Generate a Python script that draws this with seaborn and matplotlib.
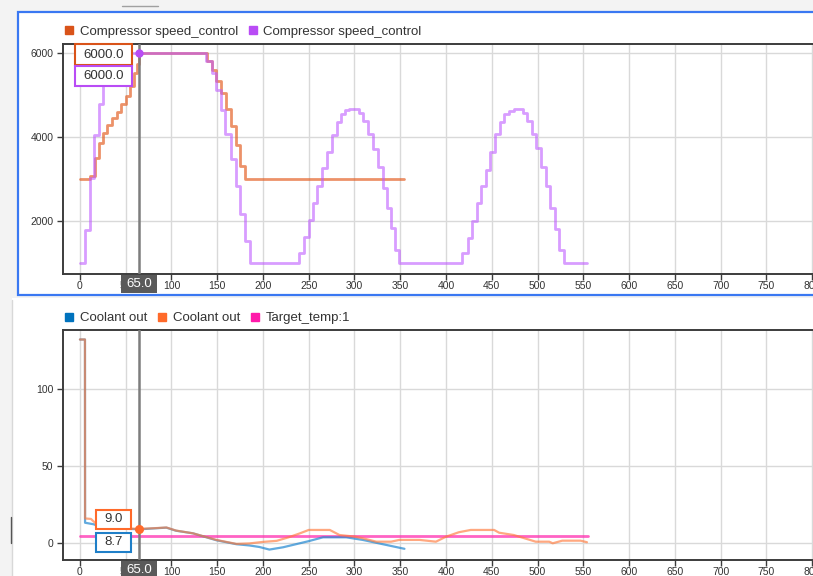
import matplotlib
matplotlib.use("Agg")
import matplotlib.pyplot as plt
from matplotlib.lines import Line2D
from matplotlib.patches import Rectangle
import pandas as pd
import seaborn as sns

W, H = 813, 576

# ---- Compressor speed_control, run A (orange) ----
speed_a_t = [0, 11, 16, 21, 25.5, 30, 34.5, 40, 45, 50, 54.5, 59, 62.5, 65,
             139, 144.3, 149, 154.4, 159.1, 164.6, 170, 175, 180.4, 354.4]
speed_a_v = [3000, 3080, 3500, 3860, 4100, 4300, 4450, 4600, 4780, 4970, 5210, 5530, 5730, 6000,
             5800, 5590, 5330, 5050, 4670, 4260, 3820, 3320, 3000, 3000]

# ---- Compressor speed_control, run B (purple) ----
speed_b_t = [0, 5.5, 11, 15.6, 21, 25.4,
             138, 144, 149, 154.4, 158.8, 164.6, 170, 175, 180, 185.6,
             239, 244.6, 250, 254.5, 259.3, 264.4, 270.2, 275.6, 280.7, 285, 289.8, 294.5,
             304.7, 309, 314.5, 320.7, 325.8, 330.9, 335.3, 339.6, 344.7, 349,
             418, 423.6, 428.4, 433.8, 438.5, 443.6, 448.3, 453.8, 458.5, 462.9, 468.3, 474.8,
             483.9, 489, 494.5, 498.5, 503.9, 509, 513.7, 519.2, 523.5, 529.4, 553.6]
speed_b_v = [1000, 1800, 3030, 4060, 4800, 6000,
             5805, 5530, 5130, 4655, 4080, 3480, 2830, 2180, 1540, 1000,
             1240, 1640, 2040, 2430, 2830, 3270, 3660, 4060, 4350, 4540, 4640, 4680,
             4580, 4380, 4080, 3720, 3290, 2790, 2310, 1840, 1320, 1000,
             1240, 1600, 2010, 2430, 2830, 3230, 3640, 4080, 4350, 4540, 4630, 4670,
             4580, 4380, 4080, 3740, 3300, 2850, 2310, 1810, 1320, 1000, 1000]

# ---- Coolant out, run A (blue) ----
cool_a_t = [0, 5.5, 5.6, 15, 20, 30, 45, 65, 80, 94.5, 105, 123.5, 149, 171, 185, 196, 207,
            222, 236, 250, 265.6, 291, 309, 331, 354.6]
cool_a_v = [132.5, 132.5, 13.0, 12.0, 10.8, 9.8, 9.2, 8.7, 9.3, 9.8, 7.8, 6.1, 1.6, -1.0, -1.8, -2.8, -4.5,
            -3.0, -1.0, 1.0, 3.5, 3.5, 1.8, -1.0, -4.0]

# ---- Coolant out, run B (orange) ----
cool_b_t = [0, 5.5, 5.6, 12, 15, 20, 30, 45, 65, 80, 94.5, 105, 123.5, 149, 171, 185, 200, 215,
            228, 240, 250, 273, 283.6, 301, 309, 323.7, 340, 349, 371, 389, 400, 414, 427, 452.6,
            458, 474, 498, 512.7, 516.6, 527, 547, 554]
cool_b_v = [132.5, 132.5, 15.8, 15.5, 13.8, 11.5, 10.0, 9.4, 9.0, 9.4, 9.9, 7.9, 6.1, 1.8, -0.8, -0.5, 0.5, 1.2,
            3.5, 6.0, 8.3, 8.3, 5.0, 3.9, 2.9, 0.65, 0.65, 1.8, 1.8, 0.65, 3.9, 6.8, 8.3, 8.3,
            6.5, 5.0, 0.65, 0.65, -0.4, 1.3, 1.3, 0.3]

# ---- Target_temp:1 ----
target_t = [0, 555]
target_v = [4.5, 4.5]

cursor_t = 65.0

top_labels = ["Compressor speed_control", "Compressor speed_control"]
top_colors = ["#d95319", "#b94cf5"]
bot_labels = ["Coolant out", "Coolant out", "Target_temp:1"]
bot_colors = ["#0072bd", "#ff6a2a", "#ff1aaa"]

x_ticks = list(range(0, 801, 50))
top_yticks = [2000, 4000, 6000]
bot_yticks = [0, 50, 100]

sns.set_theme(style="white")
plt.rcParams["font.family"] = ["Liberation Sans", "DejaVu Sans"]

fig = plt.figure(figsize=(W / 100, H / 100), dpi=100, facecolor="#f3f3f3")


def px_rect(x0, y0, x1, y1, **kw):
    """Rectangle in top-down pixel coordinates."""
    r = Rectangle((x0 / W, 1 - y1 / H), (x1 - x0) / W, (y1 - y0) / H,
                  transform=fig.transFigure, **kw)
    fig.add_artist(r)
    return r


def px_axes(x0, y0, x1, y1):
    return fig.add_axes([x0 / W, 1 - y1 / H, (x1 - x0) / W, (y1 - y0) / H])


# panel backgrounds
px_rect(18, 12, 830, 295, facecolor="white", edgecolor="#3a78f2", lw=1.6, zorder=-2)
px_rect(12, 298, 830, 590, facecolor="white", edgecolor="none", zorder=-2)
fig.add_artist(Line2D([122 / W, 158 / W], [1 - 6 / H, 1 - 6 / H], transform=fig.transFigure,
                      color="#a0a0a0", lw=1))
fig.add_artist(Line2D([12 / W, 12 / W], [1 - 300 / H, 0], transform=fig.transFigure,
                      color="#d8d8d8", lw=1))
fig.add_artist(Line2D([11 / W, 11 / W], [1 - 517 / H, 1 - 543 / H], transform=fig.transFigure,
                      color="#555555", lw=1))

ax1 = px_axes(63, 44, 813, 274)
ax2 = px_axes(63, 330, 813, 560)

for ax in (ax1, ax2):
    ax.set_facecolor("white")
    ax.set_xlim(-18.5, 801)
    ax.set_xticks(x_ticks)
    ax.grid(True, color="#d9d9d9", lw=1)
    ax.set_axisbelow(True)
    for s in ("left", "bottom", "top"):
        ax.spines[s].set_color("#3c3c3c")
        ax.spines[s].set_linewidth(1.4)
    ax.spines["right"].set_visible(False)
    ax.tick_params(axis="both", direction="out", length=4, width=1, color="#3c3c3c",
                   labelsize=7.5, labelcolor="#333333", bottom=True, left=True)
    ax.tick_params(axis="x", pad=1)
    ax.tick_params(axis="y", pad=3)

ax1.set_ylim(750, 6214)
ax1.set_yticks(top_yticks)
ax2.set_ylim(-11.3, 138.7)
ax2.set_yticks(bot_yticks)

# speed traces
sns.lineplot(data=pd.DataFrame({"t": speed_a_t, "v": speed_a_v}), x="t", y="v", ax=ax1,
             color="#e4642a", alpha=0.7, lw=2, drawstyle="steps-post",
             estimator=None, sort=False, legend=False)
sns.lineplot(data=pd.DataFrame({"t": speed_b_t, "v": speed_b_v}), x="t", y="v", ax=ax1,
             color="#bf5cff", alpha=0.6, lw=2, drawstyle="steps-post",
             estimator=None, sort=False, legend=False)

# coolant traces
sns.lineplot(data=pd.DataFrame({"t": target_t, "v": target_v}), x="t", y="v", ax=ax2,
             color="#ff2fb0", alpha=0.75, lw=2, estimator=None, sort=False, legend=False)
sns.lineplot(data=pd.DataFrame({"t": cool_a_t, "v": cool_a_v}), x="t", y="v", ax=ax2,
             color="#1f86d0", alpha=0.7, lw=1.6, estimator=None, sort=False, legend=False)
sns.lineplot(data=pd.DataFrame({"t": cool_b_t, "v": cool_b_v}), x="t", y="v", ax=ax2,
             color="#ff7a3c", alpha=0.65, lw=1.6, estimator=None, sort=False, legend=False)

for ax in (ax1, ax2):
    ax.set_xlabel("")
    ax.set_ylabel("")
    ax.axvline(cursor_t, color="#7d7d7d", lw=1.8, zorder=4)


# legends
def add_legend(ax, labels, colors):
    handles = [Line2D([0], [0], marker="s", ls="", color=c, markersize=5.5) for c in colors]
    ax.legend(handles, labels, loc="center left", bbox_to_anchor=(2 / 750, 1.0 + 12 / 230),
              frameon=False, ncol=len(labels), fontsize=9.5, handlelength=0.6,
              handletextpad=0.5, columnspacing=0.85, borderpad=0, borderaxespad=0,
              labelcolor="#333333")


add_legend(ax1, top_labels, top_colors)
add_legend(ax2, bot_labels, bot_colors)


def disp_to_px(ax, x, y):
    dx, dy = ax.transData.transform((x, y))
    return dx, H - dy


def value_box(ax, x, y, dx, dy, w, h, text, ec):
    cx, cy = disp_to_px(ax, x, y)
    bx, by = cx + dx, cy + dy
    px_rect(bx - w / 2, by - h / 2, bx + w / 2, by + h / 2,
            facecolor="white", edgecolor=ec, lw=1.5, zorder=6)
    fig.text(bx / W, 1 - by / H, text, ha="center", va="center",
             fontsize=9.5, color="#333333", zorder=7)


def cursor_box(ax):
    cx, _ = disp_to_px(ax, cursor_t, 0)
    bottom = H - ax.transAxes.transform((0, 0))[1]
    cy = bottom + 10
    px_rect(cx - 18, cy - 9, cx + 18, cy + 9, facecolor="#5a5a5a", edgecolor="none", zorder=6)
    fig.text(cx / W, 1 - cy / H, f"{cursor_t:.1f}", ha="center", va="center",
             fontsize=9.5, color="white", zorder=7)


# cursor readouts
sa = speed_a_v[speed_a_t.index(cursor_t)]
sb = 6000.0
ca = cool_a_v[cool_a_t.index(cursor_t)]
cb = cool_b_v[cool_b_t.index(cursor_t)]

ax1.plot([cursor_t], [sb], marker="o", ms=5, color="#b94cf5", zorder=5, clip_on=False)
ax2.plot([cursor_t], [cb], marker="o", ms=5.5, color="#ff6a2a", zorder=5)

value_box(ax1, cursor_t, sa, -35.5, 1.5, 57, 21, f"{sa:.1f}", "#d95319")
value_box(ax1, cursor_t, sb, -35.5, 23, 57, 20, f"{sb:.1f}", "#b94cf5")
value_box(ax2, cursor_t, cb, -25.5, -9.5, 35, 19, f"{cb:.1f}", "#ff6a2a")
value_box(ax2, cursor_t, ca, -25.5, 13, 35, 19, f"{ca:.1f}", "#1f7fc8")

cursor_box(ax1)
cursor_box(ax2)

fig.savefig("out.png", dpi=100, facecolor=fig.get_facecolor())
